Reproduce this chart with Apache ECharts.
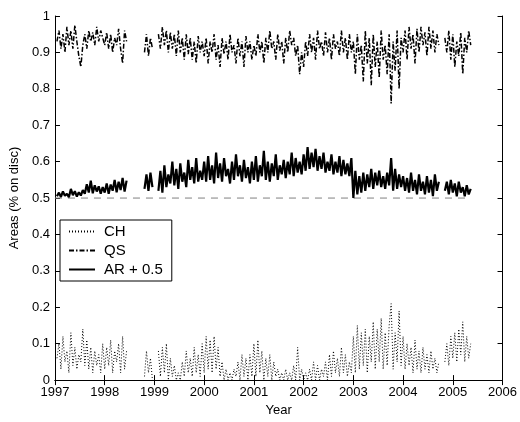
<!DOCTYPE html>
<html>
<head>
<meta charset="utf-8">
<script src="https://cdn.jsdelivr.net/npm/echarts@6/dist/echarts.min.js"></script>
<style>
  html, body { margin: 0; padding: 0; background: #fff; }
  #chart { width: 520px; height: 422px; }
</style>
</head>
<body>
<div id="chart"></div>
<script>
// samples every 0.04 yr starting 1997.04, null = no data
const t0 = 1997.04;
const dt = 0.04;

const ch = [
  0.06,0.1,0.03,0.12,0.05,0.08,0.02,0.13,0.04,0.09,0.03,0.07,
  0.05,0.14,0.04,0.11,0.03,0.09,0.02,0.08,0.04,0.07,0.02,0.1,
  0.03,0.09,0.04,0.11,0.02,0.08,0.05,0.1,0.02,0.12,0.03,0.08,
  null,null,null,null,null,null,null,null,
  0.01,0.08,0.02,0.06,0.0,
  null,null,
  0.08,0.01,0.09,0.02,0.1,0.0,0.06,0.01,0.04,0.0,0.02,0.0,0.05,0.01,0.08,0.02,0.06,0.01,0.09,0.02,0.07,0.01,0.1,
  0.02,0.12,0.03,0.11,0.02,0.12,0.03,0.09,0.01,0.05,0.0,0.03,0.0,0.02,0.0,0.03,0.01,0.05,0.0,0.07,0.01,0.06,0.0,0.07,0.01,
  0.1,0.01,0.11,0.02,0.08,0.0,0.06,0.01,0.07,0.0,0.05,0.01,0.03,0.0,0.02,0.0,0.03,0.0,0.02,0.0,0.04,0.0,0.09,0.0,0.03,
  0.0,0.02,0.0,0.03,0.0,0.05,0.0,0.04,0.0,0.03,0.01,0.05,0.0,0.07,0.01,0.08,0.02,0.06,0.01,0.09,0.02,0.07,0.01,0.05,0.02,
  0.12,0.02,0.15,0.03,0.13,0.04,0.14,0.02,0.12,0.05,0.16,0.03,0.14,0.05,0.17,0.03,0.13,0.04,0.15,0.21,0.03,0.13,0.05,0.19,0.04,
  0.12,0.03,0.1,0.04,0.09,0.02,0.11,0.03,0.08,0.02,0.09,0.03,0.07,0.02,0.08,0.03,0.06,0.02,0.05,
  null,null,
  0.05,0.1,0.04,0.12,0.06,0.13,0.05,0.14,0.07,0.16,0.05,0.12,0.06,0.1
];

const qs = [
  0.93,0.96,0.91,0.95,0.9,0.97,0.92,0.96,0.91,0.975,0.93,
  0.89,0.86,0.92,0.95,0.91,0.96,0.93,0.955,0.92,0.97,0.93,0.96,0.94,
  0.92,0.955,0.91,0.95,0.9,0.94,0.92,0.965,0.91,0.87,0.96,0.93,
  null,null,null,null,null,null,null,null,
  0.9,0.95,0.89,0.94,0.91,
  null,null,
  0.95,0.91,0.97,0.92,0.96,0.9,0.955,0.91,0.95,0.89,0.96,0.9,0.94,0.88,0.95,0.895,0.94,0.88,0.93,0.87,0.945,0.9,0.93,
  0.89,0.94,0.87,0.93,0.9,0.95,0.88,0.92,0.86,0.94,0.895,0.93,0.88,0.95,0.9,0.92,0.87,0.94,0.89,0.93,0.86,0.945,0.9,0.93,0.88,
  0.92,0.89,0.95,0.9,0.93,0.87,0.94,0.9,0.96,0.91,0.93,0.88,0.95,0.905,0.93,0.87,0.94,0.9,0.96,0.92,0.94,0.89,0.92,0.84,0.9,
  0.86,0.93,0.89,0.95,0.9,0.94,0.88,0.96,0.91,0.93,0.89,0.955,0.9,0.94,0.88,0.95,0.91,0.93,0.89,0.96,0.9,0.94,0.88,0.95,0.9,
  0.93,0.84,0.95,0.88,0.92,0.82,0.96,0.87,0.94,0.81,0.95,0.86,0.93,0.83,0.96,0.88,0.92,0.84,0.95,0.76,0.93,0.85,0.96,0.8,0.94,
  0.9,0.96,0.88,0.97,0.91,0.95,0.87,0.965,0.9,0.97,0.92,0.955,0.89,0.97,0.91,0.96,0.9,0.95,0.92,
  null,null,
  0.94,0.9,0.96,0.88,0.95,0.86,0.93,0.89,0.955,0.84,0.94,0.9,0.96,0.92
];

// AR already shifted by +0.5
const ar = [
  0.505,0.515,0.503,0.518,0.506,0.512,0.502,0.525,0.508,0.519,0.504,0.516,
  0.507,0.522,0.512,0.538,0.515,0.548,0.513,0.535,0.518,0.532,0.512,0.53,
  0.515,0.54,0.512,0.537,0.52,0.55,0.516,0.545,0.522,0.555,0.518,0.548,
  null,null,null,null,null,null,null,null,
  0.525,0.565,0.52,0.57,0.53,
  null,null,
  0.52,0.575,0.515,0.59,0.53,0.565,0.54,0.6,0.535,0.58,0.525,0.595,0.545,0.57,0.53,0.605,0.55,0.585,0.54,0.61,0.545,0.575,0.55,
  0.6,0.545,0.615,0.55,0.59,0.54,0.625,0.555,0.595,0.545,0.61,0.56,0.58,0.54,0.6,0.55,0.62,0.56,0.59,0.545,0.605,0.555,0.585,0.54,0.6,
  0.55,0.615,0.545,0.59,0.56,0.63,0.55,0.6,0.545,0.595,0.56,0.62,0.55,0.59,0.565,0.605,0.555,0.6,0.565,0.625,0.56,0.61,0.57,0.6,0.565,
  0.62,0.575,0.64,0.58,0.625,0.585,0.635,0.575,0.615,0.58,0.625,0.57,0.6,0.575,0.62,0.565,0.6,0.57,0.615,0.56,0.605,0.565,0.595,0.56,0.61,
  0.5,0.575,0.51,0.56,0.515,0.57,0.52,0.565,0.53,0.58,0.525,0.57,0.535,0.575,0.53,0.56,0.525,0.57,0.535,0.61,0.52,0.58,0.525,0.565,0.53,
  0.56,0.52,0.555,0.515,0.57,0.52,0.55,0.51,0.565,0.52,0.545,0.51,0.56,0.515,0.55,0.505,0.565,0.52,0.545,
  null,null,
  0.52,0.545,0.51,0.55,0.515,0.54,0.505,0.545,0.515,0.53,0.505,0.535,0.51,0.525
];

const baseline = [[1997, 0.5], [2005.36, 0.5]];
const xTicks = [1997, 2006];
const yTicks = [0, 1];

const years = ar.map((_, i) => +(t0 + dt * i).toFixed(2));
const pairs = (vals) => vals.map((v, i) => [years[i], v]);

const font = "Liberation Sans, Arial, sans-serif";
const axisLine = { show: true, lineStyle: { color: "#000", width: 1 } };
const tick = { show: true, inside: true, length: 5, lineStyle: { color: "#000" } };

const chart = echarts.init(document.getElementById("chart"), null, { renderer: "canvas" });
chart.setOption({
  animation: false,
  backgroundColor: "#fff",
  grid: { left: 42, right: 17, top: 16, bottom: 41 },
  legend: {
    left: 60,
    top: 220,
    orient: "vertical",
    data: ["CH", "QS", "AR + 0.5"],
    itemWidth: 26,
    itemHeight: 14,
    itemGap: 4,
    padding: [4, 9, 4, 8],
    borderColor: "#000",
    borderWidth: 1,
    backgroundColor: "#fff",
    itemStyle: { opacity: 0 },
    textStyle: { fontFamily: font, fontSize: 15, color: "#000", padding: [0, 0, 0, 4] },
  },
  xAxis: [
    {
      type: "value",
      min: xTicks[0],
      max: xTicks[1],
      interval: 1,
      name: "Year",
      nameLocation: "middle",
      nameGap: 23,
      nameTextStyle: { fontFamily: font, fontSize: 13, color: "#000" },
      axisLine: axisLine,
      axisTick: tick,
      splitLine: { show: false },
      axisLabel: { fontFamily: font, fontSize: 13, color: "#000", margin: 6, formatter: (v) => String(v) },
    },
    {
      type: "value",
      position: "top",
      min: xTicks[0],
      max: xTicks[1],
      interval: 1,
      axisLine: axisLine,
      axisTick: tick,
      splitLine: { show: false },
      axisLabel: { show: false },
    },
  ],
  yAxis: [
    {
      type: "value",
      min: yTicks[0],
      max: yTicks[1],
      interval: 0.1,
      name: "Areas (% on disc)",
      nameLocation: "middle",
      nameGap: 30,
      nameTextStyle: { fontFamily: font, fontSize: 13, color: "#000" },
      axisLine: axisLine,
      axisTick: tick,
      splitLine: { show: false },
      axisLabel: { fontFamily: font, fontSize: 13, color: "#000", margin: 5, formatter: (v) => String(+v.toFixed(1)) },
    },
    {
      type: "value",
      position: "right",
      min: yTicks[0],
      max: yTicks[1],
      interval: 0.1,
      axisLine: axisLine,
      axisTick: tick,
      splitLine: { show: false },
      axisLabel: { show: false },
    },
  ],
  series: [
    {
      name: "baseline",
      type: "line",
      data: baseline,
      symbol: "none",
      silent: true,
      lineStyle: { color: "#808080", width: 1, type: [7, 6] },
    },
    {
      name: "CH",
      type: "line",
      data: pairs(ch),
      symbol: "none",
      itemStyle: { color: "#000" },
      lineStyle: { color: "#000", width: 1, type: [1, 2] },
    },
    {
      name: "QS",
      type: "line",
      data: pairs(qs),
      symbol: "none",
      itemStyle: { color: "#000" },
      lineStyle: { color: "#000", width: 1.5, type: [5, 2, 1.5, 2] },
    },
    {
      name: "AR + 0.5",
      type: "line",
      data: pairs(ar),
      symbol: "none",
      itemStyle: { color: "#000" },
      lineStyle: { color: "#000", width: 2.2 },
    },
  ],
});
</script>
</body>
</html>
